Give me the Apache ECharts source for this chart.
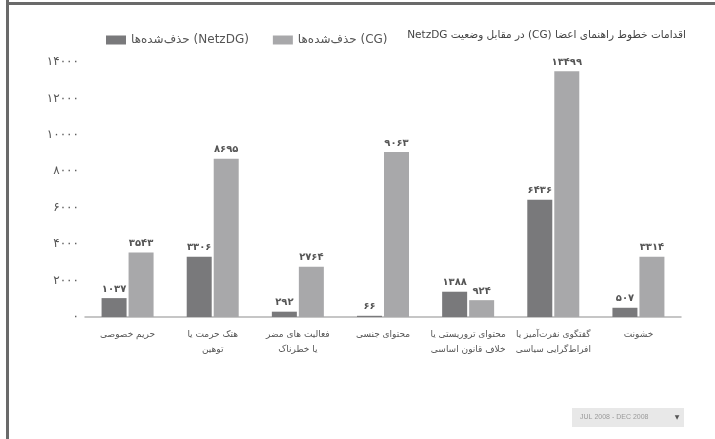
<!DOCTYPE html>
<html>
<head>
<meta charset="utf-8">
<script src="https://cdn.jsdelivr.net/npm/echarts@6/dist/echarts.min.js"></script>
<style>
html,body{margin:0;padding:0;background:#fff;}
#chart{width:715px;height:439px;}
</style>
</head>
<body>
<div id="chart"></div>
<script>
const categories = [
  'حریم خصوصی',
  'هتک حرمت یا\nتوهین',
  'فعالیت های مضر\nیا خطرناک',
  'محتوای جنسی',
  'محتوای تروریستی یا\nخلاف قانون اساسی',
  'گفتگوی نفرت‌آمیز یا\nافراط‌گرایی سیاسی',
  'خشونت'
];
const netzdgValues = [1037, 3306, 292, 66, 1388, 6436, 507];
const cgValues = [3543, 8695, 2764, 9063, 924, 13499, 3314];
const yTicks = [0, 2000, 4000, 6000, 8000, 10000, 12000, 14000];
const seriesNames = ['حذف‌شده‌ها (NetzDG)', 'حذف‌شده‌ها (CG)'];
const titleText = 'اقدامات خطوط راهنمای اعضا (CG) در مقابل وضعیت NetzDG';
const dateRange = 'JUL 2008 - DEC 2008';

const FONT = 'DejaVu Sans';
function fa(n) {
  return String(n).replace(/[0-9]/g, d => String.fromCharCode(0x06F0 + Number(d)));
}

const chart = echarts.init(document.getElementById('chart'), null, {renderer: 'canvas'});
chart.setOption({
  backgroundColor: '#fff',
  animation: false,
  textStyle: {fontFamily: FONT},
  title: {
    text: '\u2067' + titleText + '\u2069',
    right: 24, top: 25,
    textStyle: {fontSize: 10.5, fontWeight: 'normal', color: '#444', fontFamily: FONT}
  },
  legend: {
    left: 101, top: 29,
    itemWidth: 20, itemHeight: 9, itemGap: 24,
    icon: 'rect',
    data: seriesNames,
    textStyle: {fontSize: 12, color: '#555', fontFamily: FONT}
  },
  grid: {left: 85, right: 34, top: 62, bottom: 122, containLabel: false},
  xAxis: {
    type: 'category',
    data: categories,
    axisLine: {lineStyle: {color: '#b4b4b4', width: 1.5}},
    axisTick: {show: false},
    axisLabel: {interval: 0, color: '#555', fontSize: 9, lineHeight: 15, margin: 10, fontFamily: FONT}
  },
  yAxis: {
    type: 'value',
    min: 0, max: 14000, interval: 2000,
    axisLine: {show: false},
    axisTick: {show: false},
    splitLine: {show: false},
    axisLabel: {color: '#555', fontSize: 12, margin: 6, fontFamily: FONT,
      formatter: v => yTicks.includes(v) ? fa(v) : ''}
  },
  series: [
    {
      name: seriesNames[0], type: 'bar', data: netzdgValues,
      barWidth: 25, barGap: '8%',
      itemStyle: {color: '#79797b'},
      label: {show: true, position: 'top', distance: 4, color: '#555', fontSize: 10, fontWeight: 'bold', fontFamily: FONT, formatter: p => fa(p.value)}
    },
    {
      name: seriesNames[1], type: 'bar', data: cgValues,
      barWidth: 25,
      itemStyle: {color: '#a8a8aa'},
      label: {show: true, position: 'top', distance: 4, color: '#555', fontSize: 10, fontWeight: 'bold', fontFamily: FONT, formatter: p => fa(p.value)}
    }
  ],
  graphic: [
    {type: 'rect', shape: {x: 6, y: 0, width: 3, height: 439}, style: {fill: '#6a6a6a'}, silent: true},
    {type: 'rect', shape: {x: 6, y: 2, width: 709, height: 3}, style: {fill: '#6a6a6a'}, silent: true},
    {type: 'rect', shape: {x: 572, y: 408, width: 112, height: 19}, style: {fill: '#e8e8e8'}, silent: true},
    {type: 'text', x: 580, y: 417.5, style: {text: dateRange, fill: '#9a9a9a', fontSize: 7, fontFamily: 'Liberation Sans', verticalAlign: 'middle'}, silent: true},
    {type: 'text', x: 677, y: 417.5, style: {text: '▼', fill: '#555', fontSize: 6, fontFamily: 'DejaVu Sans', align: 'center', verticalAlign: 'middle'}, silent: true}
  ]
});
</script>
</body>
</html>
